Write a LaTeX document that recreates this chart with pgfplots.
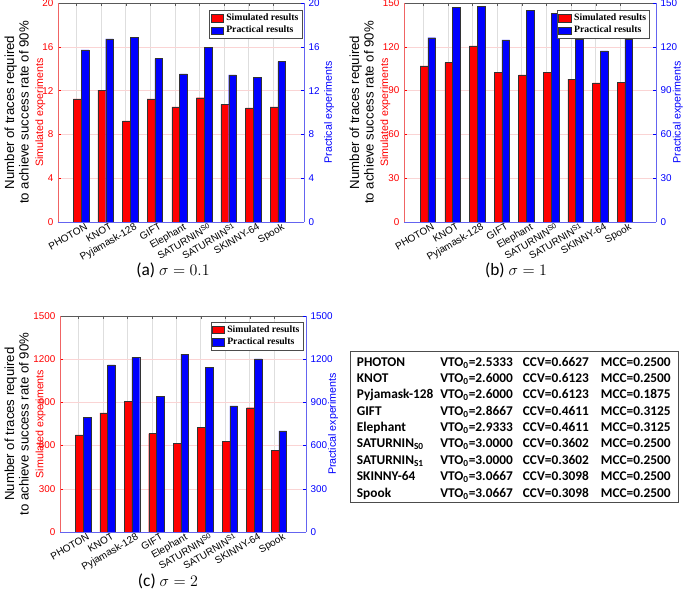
\documentclass[border=0pt]{standalone}
\usepackage{pgfplots}
\pgfplotsset{compat=1.18}
\usepackage{pgfplotstable}
\usepackage{fontspec}
\setmainfont{Liberation Sans}
\newfontfamily\serifb{Liberation Serif}
\newfontfamily\calib{Carlito}

\definecolor{gridred}{RGB}{250,212,212}
\definecolor{gridgray}{RGB}{222,222,222}
\definecolor{axred}{RGB}{240,100,100}
\definecolor{axblue}{RGB}{100,100,240}

\pgfplotstableread{
x  sa    pa    sb    pb    sc   pc
1  11.25 15.72 106.9 126.2 674  794
2  12.05 16.73 109.2 147.0 828  1161
3  9.24  16.85 120.7 147.5 905  1212
4  11.25 14.92 102.6 124.8 683  944
5  10.52 13.52 100.8 145.0 616  1235
6  11.35 15.93 102.4 142.7 727  1145
7  10.73 13.43 97.8  125.3 630  875
8  10.43 13.21 95.3  117.2 863  1202
9  10.52 14.65 95.5  125.3 568  702
}\data

\newcommand{\sub}[1]{\raisebox{0.55ex}{\fontsize{5.5}{5.5}\selectfont #1}}

\pgfplotsset{
  common/.style={
    scale only axis, anchor=south west, ymin=0,
    /pgf/number format/assume math mode=true,
    /pgf/number format/1000 sep={},
    tick label style={font=\fontsize{7.4}{8}\selectfont},
    major tick length=2.5pt,
    tick align=inside,
  },
  lax/.style={
    common,
    axis lines=box, separate axis lines,
    x axis line style={draw=black!65},
    y axis line style={draw=axred},
    xtick={1,...,9},
    xticklabels={PHOTON,KNOT,Pyjamask-128,GIFT,Elephant,SATURNIN\sub{S0},SATURNIN\sub{S1},SKINNY-64,Spook},
    xticklabel style={xshift=6.5pt, yshift=1pt, rotate=30, anchor=north east, inner sep=1pt, font=\fontsize{7.5}{8}\selectfont},
    xtick pos=both, ytick pos=left,
    x tick style={black!65}, y tick style={red},
    yticklabel style={red},
    grid=major, x grid style={gridgray, line width=0.4pt}, y grid style={gridred, line width=0.4pt},
    ylabel style={align=center, font=\fontsize{9.9}{10.9}\selectfont, anchor=center},
    ylabel={Number of traces required\\to achieve success rate of 90\%\\{\color{red}\fontsize{8}{10.5}\selectfont Simulated experiments}},
  },
  rax/.style={
    common,
    axis x line*=bottom, axis y line*=right,
    axis line style={draw=axblue, -},
    every outer x axis line/.append style={-},
    every outer y axis line/.append style={-},
    xtick=\empty, ytick pos=right,
    y tick style={blue}, yticklabel style={blue},
    ylabel={Practical experiments},
    ylabel style={font=\fontsize{8}{9}\selectfont, color=blue, anchor=center},
    legend cell align=left,
    legend style={font=\serifb\bfseries\fontsize{7.3}{8}\selectfont, inner sep=0.6pt, row sep=-1.2pt, draw=black!70, line width=0.4pt, anchor=north east},
  },
  rbar/.style={ybar, bar width=5.8pt, bar shift=0.6pt, fill=red, draw=black!80, line width=0.3pt},
  bbar/.style={ybar, bar width=5.8pt, bar shift=6.4pt, fill=blue, draw=black!80, line width=0.3pt,
    legend image code/.code={\draw[##1,/tikz/.cd] (0pt,-2.8pt) rectangle (9.5pt,2.8pt);}},
  redleg/.style={fill=red, draw=black!80, line width=0.3pt,
    legend image code/.code={\draw[##1,/tikz/.cd] (0pt,-2.8pt) rectangle (9.5pt,2.8pt);}},
}

\begin{document}
\begin{tikzpicture}
\useasboundingbox (0,0) rectangle (513.75pt,443.25pt);

% ---------- (a)
\begin{axis}[lax, at={(43.5pt,276.75pt)}, width=184.5pt, height=164.25pt,
  xmin=0.25, xmax=10.25, ymax=20, ytick={0,4,...,20},
  ylabel style={at={(axis description cs:-0.134,0.5)}}]
\addplot[rbar] table[x=x,y=sa]{\data};
\end{axis}
\begin{axis}[rax, at={(43.5pt,276.75pt)}, width=184.5pt, height=164.25pt,
  xmin=0.25, xmax=10.25, ymax=20, ytick={0,4,...,20},
  ylabel style={at={(axis description cs:1.102,0.5)}},
  legend style={at={(rel axis cs:0.992,0.968)}}]
\addlegendimage{redleg}
\addplot[bbar] table[x=x,y=pa]{\data};
\legend{Simulated results,Practical results}
\end{axis}

% ---------- (b)
\begin{axis}[lax, at={(303pt,276.75pt)}, width=189pt, height=164.25pt,
  xmin=0.22, xmax=10.45, ymax=150, ytick={0,30,...,150},
  ylabel style={at={(axis description cs:-0.135,0.5)}}]
\addplot[rbar] table[x=x,y=sb]{\data};
\end{axis}
\begin{axis}[rax, at={(303pt,276.75pt)}, width=189pt, height=164.25pt,
  xmin=0.22, xmax=10.45, ymax=150, ytick={0,30,...,150},
  ylabel style={at={(axis description cs:1.087,0.5)}},
  legend style={at={(rel axis cs:0.976,0.968)}}]
\addlegendimage{redleg}
\addplot[bbar] table[x=x,y=pb]{\data};
\legend{Simulated results,Practical results}
\end{axis}

% ---------- (c)
\begin{axis}[lax, at={(45pt,44.25pt)}, width=184.5pt, height=162pt,
  xmin=0.25, xmax=10.3, ymax=1500, ytick={0,300,...,1500},
  ylabel style={at={(axis description cs:-0.142,0.5)}}]
\addplot[rbar] table[x=x,y=sc]{\data};
\end{axis}
\begin{axis}[rax, at={(45pt,44.25pt)}, width=184.5pt, height=162pt,
  xmin=0.25, xmax=10.3, ymax=1500, ytick={0,300,...,1500},
  ylabel style={at={(axis description cs:1.11,0.5)}},
  legend style={at={(rel axis cs:0.988,0.974)}}]
\addlegendimage{redleg}
\addplot[bbar] table[x=x,y=pc]{\data};
\legend{Simulated results,Practical results}
\end{axis}

% ---------- captions
\node[font=\fontsize{13}{14}\selectfont] at (129.75pt,240.75pt) {\calib (a) $\sigma=0.1$};
\node[font=\fontsize{13}{14}\selectfont] at (387pt,240.75pt) {\calib (b) $\sigma=1$};
\node[font=\fontsize{13}{14}\selectfont] at (126pt,7pt) {\calib (c) $\sigma=2$};

% ---------- table
\draw[black!70, line width=0.6pt] (263pt,66.5pt) rectangle (508.7pt,180pt);
\node[anchor=north west, inner sep=0pt, font=\calib\bfseries\fontsize{10}{12.27}\selectfont] at (267.5pt,177.4pt) {%
\begin{tabular}{@{}p{62.5pt}@{}p{62pt}@{}p{58.5pt}@{}l@{}}
PHOTON & VTO\textsubscript{0}=2.5333 & CCV=0.6627 & MCC=0.2500\\
KNOT & VTO\textsubscript{0}=2.6000 & CCV=0.6123 & MCC=0.2500\\
Pyjamask-128 & VTO\textsubscript{0}=2.6000 & CCV=0.6123 & MCC=0.1875\\
GIFT & VTO\textsubscript{0}=2.8667 & CCV=0.4611 & MCC=0.3125\\
Elephant & VTO\textsubscript{0}=2.9333 & CCV=0.4611 & MCC=0.3125\\
SATURNIN\textsubscript{S0} & VTO\textsubscript{0}=3.0000 & CCV=0.3602 & MCC=0.2500\\
SATURNIN\textsubscript{S1} & VTO\textsubscript{0}=3.0000 & CCV=0.3602 & MCC=0.2500\\
SKINNY-64 & VTO\textsubscript{0}=3.0667 & CCV=0.3098 & MCC=0.2500\\
Spook & VTO\textsubscript{0}=3.0667 & CCV=0.3098 & MCC=0.2500
\end{tabular}};
\end{tikzpicture}
\end{document}
